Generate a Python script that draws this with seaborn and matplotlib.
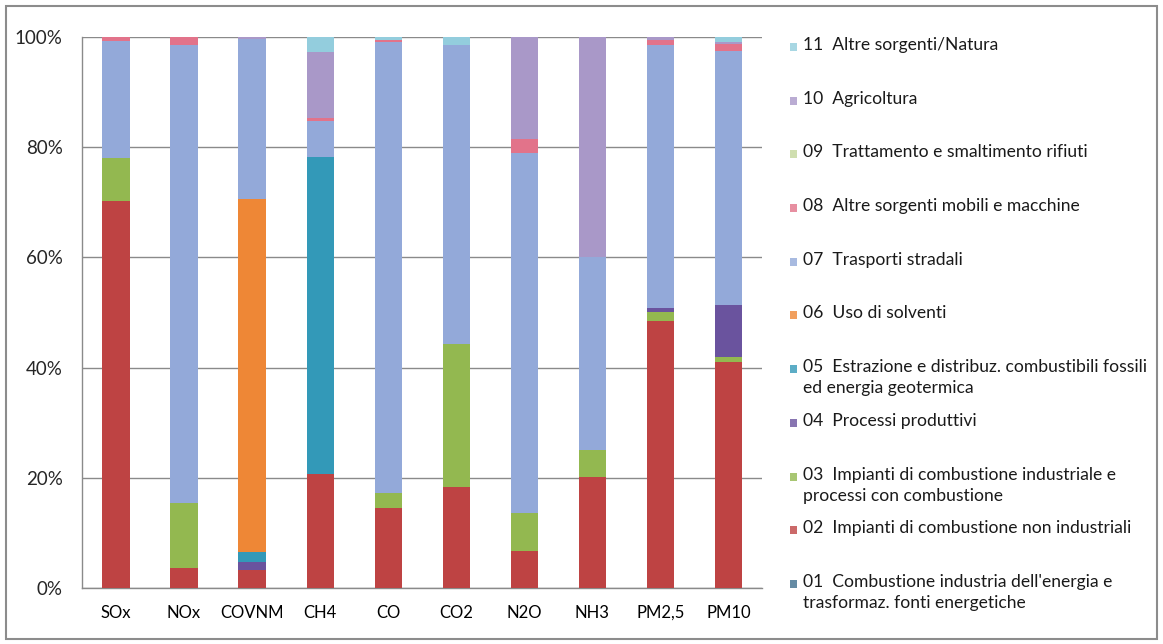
import numpy as np
import pandas as pd
import seaborn as sns
import matplotlib.pyplot as plt
from matplotlib.patches import Rectangle
from matplotlib.ticker import FixedLocator, PercentFormatter

sns.set_style("white")
plt.rcParams["font.family"] = ["Lato", "DejaVu Sans"]

# pollutants on the x axis
pollutants = ["SOx", "NOx", "COVNM", "CH4", "CO", "CO2", "N2O", "NH3", "PM2,5", "PM10"]

# share (%) of each source sector, bottom to top
s01 = [0, 0, 0, 0, 0, 0, 0, 0, 0, 0]
s02 = [70.3, 3.7, 3.3, 20.7, 14.6, 18.3, 6.8, 20.2, 48.5, 41.0]
s03 = [7.7, 11.8, 0, 0, 2.6, 26.0, 6.8, 4.8, 1.5, 1.0]
s04 = [0, 0, 1.5, 0, 0, 0, 0, 0, 0.8, 9.3]
s05 = [0, 0, 1.8, 57.6, 0, 0, 0, 0, 0, 0]
s06 = [0, 0, 64.0, 0, 0, 0, 0, 0, 0, 0]
s07 = [21.2, 83.0, 29.0, 6.5, 81.8, 54.2, 65.4, 35.0, 47.7, 46.2]
s08 = [0.8, 1.5, 0, 0.5, 0.5, 0, 2.5, 0, 1.0, 1.2]
s09 = [0, 0, 0, 0, 0, 0, 0, 0, 0, 0]
s10 = [0, 0, 0.4, 12.0, 0, 0, 18.5, 40.0, 0.5, 0.3]
s11 = [0, 0, 0, 2.7, 0.5, 1.5, 0, 0, 0, 1.0]

sectors = [
    "01  Combustione industria dell'energia e\ntrasformaz. fonti energetiche",
    "02  Impianti di combustione non industriali",
    "03  Impianti di combustione industriale e\nprocessi con combustione",
    "04  Processi produttivi",
    "05  Estrazione e distribuz. combustibili fossili\ned energia geotermica",
    "06  Uso di solventi",
    "07  Trasporti stradali",
    "08  Altre sorgenti mobili e macchine",
    "09  Trattamento e smaltimento rifiuti",
    "10  Agricoltura",
    "11  Altre sorgenti/Natura",
]
series = [s01, s02, s03, s04, s05, s06, s07, s08, s09, s10, s11]
colors = ["#3E6E8E", "#BE4343", "#93B850", "#6A539E", "#3399B8", "#EE8736",
          "#93A9D9", "#E2738A", "#C3D69B", "#A998C8", "#93CDDD"]

df = pd.DataFrame(np.array(series).T, columns=[s.split("  ")[0] for s in sectors])
df.insert(0, "pollutant", pollutants)
cum = df.iloc[:, 1:].cumsum(axis=1)

fig = plt.figure(figsize=(11.63, 6.44), dpi=100)
ax = fig.add_axes([0.0705, 0.087, 0.585, 0.8556])

# stacked bars: draw cumulative totals from the top sector down
for i in range(len(series) - 1, -1, -1):
    col = cum.columns[i]
    sns.barplot(x=df["pollutant"], y=cum[col], color=colors[i], width=0.4,
                saturation=1, ax=ax, zorder=3, linewidth=0)

ax.set_xlim(-0.5, len(pollutants) - 0.5)
ax.set_ylim(0, 100)
ax.set_yticks([0, 20, 40, 60, 80, 100])
ax.yaxis.set_major_formatter(PercentFormatter(decimals=0))
ax.set_xlabel("")
ax.set_ylabel("")
ax.grid(axis="y", color="#8a8a8a", linewidth=1, zorder=0)
ax.set_axisbelow(True)
for side in ["top", "right"]:
    ax.spines[side].set_visible(False)
for side in ["left", "bottom"]:
    ax.spines[side].set_color("#8a8a8a")
    ax.spines[side].set_linewidth(1)

ax.xaxis.set_minor_locator(FixedLocator(np.arange(-0.5, len(pollutants), 1)))
ax.tick_params(axis="x", which="major", length=0, labelsize=12, pad=12, colors="black")
ax.tick_params(axis="x", which="minor", length=5, color="#8a8a8a", direction="out")
ax.tick_params(axis="y", length=5, color="#8a8a8a", direction="out", labelsize=13.5, pad=9)

# legend drawn on the right, newest sector on top
px = 1 / 1163
py = 1 / 644
for k, i in enumerate(range(len(sectors) - 1, -1, -1)):
    ytop = 47 + 53.7 * k
    fig.patches.append(Rectangle((790 * px, 1 - (ytop + 4) * py), 7 * px, 8 * py,
                                 transform=fig.transFigure, facecolor=colors[i],
                                 edgecolor="none", alpha=0.8))
    fig.text(803 * px, 1 - (ytop - 10) * py, sectors[i], fontsize=12.6,
             va="top", ha="left", linespacing=1.38, color="#1a1a1a")

# outer chart border
fig.patches.append(Rectangle((0.005, 0.007), 0.99, 0.984, transform=fig.transFigure,
                             facecolor="none", edgecolor="#8c8c8c", linewidth=1.5))

fig.savefig("out.png", dpi=100)
